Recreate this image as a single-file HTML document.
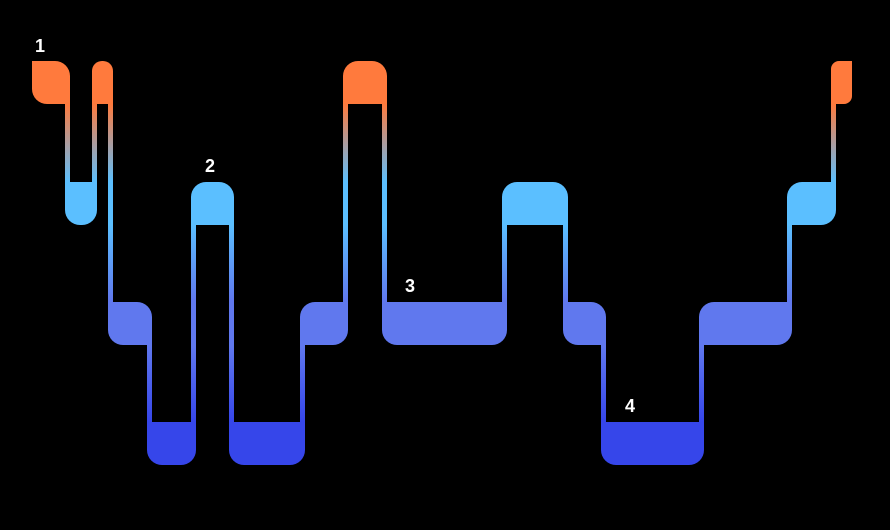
<!DOCTYPE html>
<html><head><meta charset="utf-8"><style>
html,body{margin:0;padding:0;background:#000;}
svg{display:block}
text{font-family:"Liberation Sans",sans-serif;font-size:18px;fill:#fff;font-weight:bold}
</style></head><body>
<svg width="890" height="530" viewBox="0 0 890 530" xmlns="http://www.w3.org/2000/svg">
<defs>
<linearGradient id="g" gradientUnits="userSpaceOnUse" x1="0" y1="104" x2="0" y2="422">
<stop offset="0" stop-color="#FF7A3D"/>
<stop offset="0.245" stop-color="#5BBFFF"/>
<stop offset="0.38" stop-color="#5BBFFF"/>
<stop offset="0.62" stop-color="#6078EE"/>
<stop offset="0.76" stop-color="#6078EE"/>
<stop offset="1" stop-color="#3646EA"/>
</linearGradient>
</defs>
<rect width="890" height="530" fill="#000"/>
<g fill="url(#g)">
<rect x="65" y="100" width="5" height="86"/>
<rect x="92" y="100" width="5" height="86"/>
<rect x="108" y="100" width="5" height="206"/>
<rect x="147" y="341" width="5" height="85"/>
<rect x="191" y="221" width="5" height="205"/>
<rect x="229" y="221" width="5" height="205"/>
<rect x="300" y="341" width="5" height="85"/>
<rect x="343" y="100" width="5" height="206"/>
<rect x="382" y="100" width="5" height="206"/>
<rect x="502" y="221" width="5" height="85"/>
<rect x="563" y="221" width="5" height="85"/>
<rect x="601" y="341" width="5" height="85"/>
<rect x="699" y="341" width="5" height="85"/>
<rect x="787" y="221" width="5" height="85"/>
<rect x="831" y="100" width="5" height="86"/>
</g>
<g fill="#FF7A3D">
<path d="M32,61 H55 A15 15 0 0 1 70,76 V104 H47 A15 15 0 0 1 32,89 Z"/>
<path d="M102,61 H103 A10 10 0 0 1 113,71 V104 H92 V71 A10 10 0 0 1 102,61 Z"/>
<path d="M358,61 H372 A15 15 0 0 1 387,76 V104 H343 V76 A15 15 0 0 1 358,61 Z"/>
<path d="M839,61 H852 V96 A8 8 0 0 1 844,104 H831 V69 A8 8 0 0 1 839,61 Z"/>
</g>
<g fill="#5BBFFF">
<path d="M65,182 H97 V210 A15 15 0 0 1 82,225 H80 A15 15 0 0 1 65,210 Z"/>
<path d="M206,182 H219 A15 15 0 0 1 234,197 V225 H191 V197 A15 15 0 0 1 206,182 Z"/>
<path d="M517,182 H553 A15 15 0 0 1 568,197 V225 H502 V197 A15 15 0 0 1 517,182 Z"/>
<path d="M802,182 H836 V210 A15 15 0 0 1 821,225 H787 V197 A15 15 0 0 1 802,182 Z"/>
</g>
<g fill="#6078EE">
<path d="M108,302 H137 A15 15 0 0 1 152,317 V345 H123 A15 15 0 0 1 108,330 Z"/>
<path d="M315,302 H348 V330 A15 15 0 0 1 333,345 H300 V317 A15 15 0 0 1 315,302 Z"/>
<path d="M382,302 H507 V330 A15 15 0 0 1 492,345 H397 A15 15 0 0 1 382,330 Z"/>
<path d="M563,302 H591 A15 15 0 0 1 606,317 V345 H578 A15 15 0 0 1 563,330 Z"/>
<path d="M714,302 H792 V330 A15 15 0 0 1 777,345 H699 V317 A15 15 0 0 1 714,302 Z"/>
</g>
<g fill="#3646EA">
<path d="M147,422 H196 V450 A15 15 0 0 1 181,465 H162 A15 15 0 0 1 147,450 Z"/>
<path d="M229,422 H305 V450 A15 15 0 0 1 290,465 H244 A15 15 0 0 1 229,450 Z"/>
<path d="M601,422 H704 V450 A15 15 0 0 1 689,465 H616 A15 15 0 0 1 601,450 Z"/>
</g>
<text x="35" y="52">1</text>
<text x="205" y="172">2</text>
<text x="405" y="292">3</text>
<text x="625" y="412">4</text>
</svg>
</body></html>
